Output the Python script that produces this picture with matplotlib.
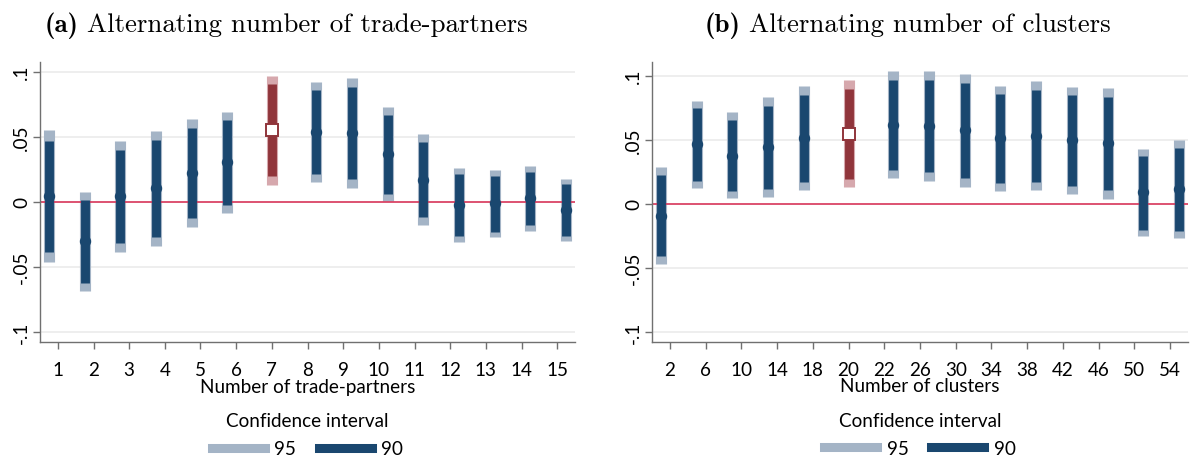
import matplotlib
matplotlib.use("Agg")
import matplotlib.pyplot as plt
from matplotlib.lines import Line2D
from matplotlib.transforms import offset_copy

# ---------------- data ----------------
left_labels = [1, 2, 3, 4, 5, 6, 7, 8, 9, 10, 11, 12, 13, 14, 15]
left_base = 7
left_est = [0.0046, -0.0305, 0.0041, 0.0103, 0.0221, 0.0303, 0.0552, 0.0539, 0.0528, 0.0367, 0.0169, -0.0023, -0.0010, 0.0026, -0.0064]
left_hi90 = [0.0469, 0.0013, 0.0400, 0.0475, 0.0567, 0.0628, 0.0903, 0.0862, 0.0880, 0.0669, 0.0462, 0.0213, 0.0200, 0.0231, 0.0136]
left_lo90 = [-0.0385, -0.0625, -0.0320, -0.0269, -0.0128, -0.0023, 0.0195, 0.0210, 0.0175, 0.0059, -0.0120, -0.0261, -0.0230, -0.0179, -0.0261]
left_hi95 = [0.0552, 0.0077, 0.0470, 0.0546, 0.0636, 0.0692, 0.0970, 0.0923, 0.0949, 0.0726, 0.0518, 0.0259, 0.0241, 0.0272, 0.0175]
left_lo95 = [-0.0467, -0.0690, -0.0390, -0.0338, -0.0197, -0.0087, 0.0128, 0.0149, 0.0105, 0.0008, -0.0179, -0.0310, -0.0269, -0.0223, -0.0302]

right_labels = [2, 6, 10, 14, 18, 20, 22, 26, 30, 34, 38, 42, 46, 50, 54]
right_base = 20
right_est = [-0.0094, 0.0464, 0.0375, 0.0441, 0.0513, 0.0545, 0.0616, 0.0609, 0.0573, 0.0511, 0.0531, 0.0498, 0.0472, 0.0089, 0.0112]
right_hi90 = [0.0224, 0.0748, 0.0656, 0.0766, 0.0852, 0.0896, 0.0966, 0.0966, 0.0943, 0.0854, 0.0891, 0.0849, 0.0834, 0.0375, 0.0433]
right_lo90 = [-0.0411, 0.0175, 0.0099, 0.0115, 0.0172, 0.0193, 0.0263, 0.0245, 0.0201, 0.0162, 0.0172, 0.0141, 0.0109, -0.0203, -0.0211]
right_hi95 = [0.0284, 0.0805, 0.0714, 0.0831, 0.0917, 0.0964, 0.1034, 0.1034, 0.1013, 0.0917, 0.0956, 0.0912, 0.0902, 0.0427, 0.0495]
right_lo95 = [-0.0471, 0.0120, 0.0047, 0.0055, 0.0107, 0.0128, 0.0198, 0.0180, 0.0130, 0.0097, 0.0107, 0.0076, 0.0039, -0.0255, -0.0270]

y_ticks = [-0.1, -0.05, 0, 0.05, 0.1]
y_ticklabels = ["-.1", "-.05", "0", ".05", ".1"]

title_tags = ["(a)", "(b)"]
title_texts = ["Alternating number of trade-partners", "Alternating number of clusters"]
xlabels = ["Number of trade-partners", "Number of clusters"]
legend_title = "Confidence interval"
legend_labels = ["95", "90"]

# ---------------- style ----------------
NAVY = "#1a476f"
NAVY_L = "#a4b4c6"
RED = "#90353b"
RED_L = "#d6a8ad"
ZERO = "#d8284f"
GRID = "#ebebeb"
SPINE = "#707070"
FONT = "Lato"
FS = 13.6
TFS = 19.4

fig = plt.figure(figsize=(11.91, 4.60), dpi=100)
W, H = 1191, 460
renderer = fig.canvas.get_renderer()


def panel(rect, labels, base, est, lo90, hi90, lo95, hi95, ylim, tag, title, title_x, xlabel):
    ax = fig.add_axes(rect)
    n = len(labels)
    idx = list(range(1, n + 1))
    base_i = labels.index(base) + 1
    xs = [i - 0.25 if i < base_i else (i + 0.25 if i > base_i else i) for i in idx]
    is_base = [i == base_i for i in idx]

    for x, e, l9, h9, l5, h5, b in zip(xs, est, lo90, hi90, lo95, hi95, is_base):
        c1 = RED if b else NAVY
        c2 = RED_L if b else NAVY_L
        ax.vlines(x, l5, h5, color=c2, lw=8.0, capstyle="butt", zorder=2)
        ax.vlines(x, l9, h9, color=c1, lw=6.4, capstyle="butt", zorder=3)
        if b:
            ax.plot([x], [e], marker="s", ms=8.3, mfc="white", mec=c1, mew=1.4, zorder=4)
        else:
            ax.plot([x], [e], marker="o", ms=7.2, color=c1, zorder=4)

    ax.axhline(0, color=ZERO, lw=1.1, zorder=2.5)
    ax.set_xlim(0.5, n + 0.5)
    ax.set_ylim(*ylim)
    ax.set_yticks(y_ticks)
    ax.set_yticklabels(y_ticklabels, rotation=90, va="center", fontfamily=FONT, fontsize=FS)
    ax.set_xticks(idx)
    ax.set_xticklabels([str(v) for v in labels], fontfamily=FONT, fontsize=FS)
    ax.grid(axis="y", color=GRID, lw=1.2, zorder=0)
    ax.set_axisbelow(True)
    for s in ["top", "right"]:
        ax.spines[s].set_visible(False)
    for s in ["left", "bottom"]:
        ax.spines[s].set_color(SPINE)
        ax.spines[s].set_linewidth(1.0)
    ax.tick_params(axis="both", direction="out", length=5, width=1.0, color=SPINE,
                   labelcolor="black")
    ax.tick_params(axis="x", pad=9)
    ax.tick_params(axis="y", pad=2)
    ax.set_xlabel(xlabel, fontfamily=FONT, fontsize=FS, labelpad=-0.5)

    handles = [Line2D([], [], color=NAVY_L, lw=6.5), Line2D([], [], color=NAVY, lw=6.5)]
    leg = ax.legend(handles, legend_labels, title=legend_title, ncol=2,
                    loc="upper center", bbox_to_anchor=(0.5, -0.19), frameon=False,
                    handlelength=2.8, handletextpad=0.5, columnspacing=1.2,
                    prop={"family": FONT, "size": FS})
    leg.get_title().set_fontfamily(FONT)
    leg.get_title().set_fontsize(FS)
    leg._legend_box.sep = 8

    t1 = fig.text(title_x / W, 1 - 32 / H, tag, ha="left", va="baseline",
                  fontfamily="cmb10", fontsize=TFS)
    wpx = t1.get_window_extent(renderer).width
    tr = offset_copy(fig.transFigure, fig=fig, x=(wpx + 8) * 72 / 100, y=0, units="points")
    fig.text(title_x / W, 1 - 32 / H, title, ha="left", va="baseline",
             fontfamily="cmr10", fontsize=TFS, transform=tr)
    return ax


ax1 = panel([40 / W, 1 - 343 / H, 535 / W, 280 / H], left_labels, left_base,
            left_est, left_lo90, left_hi90, left_lo95, left_hi95,
            (-0.108, 0.1075), title_tags[0], title_texts[0], 45, xlabels[0])
ax2 = panel([652 / W, 1 - 342.7 / H, 536 / W, 279.7 / H], right_labels, right_base,
            right_est, right_lo90, right_hi90, right_lo95, right_hi95,
            (-0.1078, 0.1107), title_tags[1], title_texts[1], 705, xlabels[1])

fig.savefig("out.png", dpi=100)
